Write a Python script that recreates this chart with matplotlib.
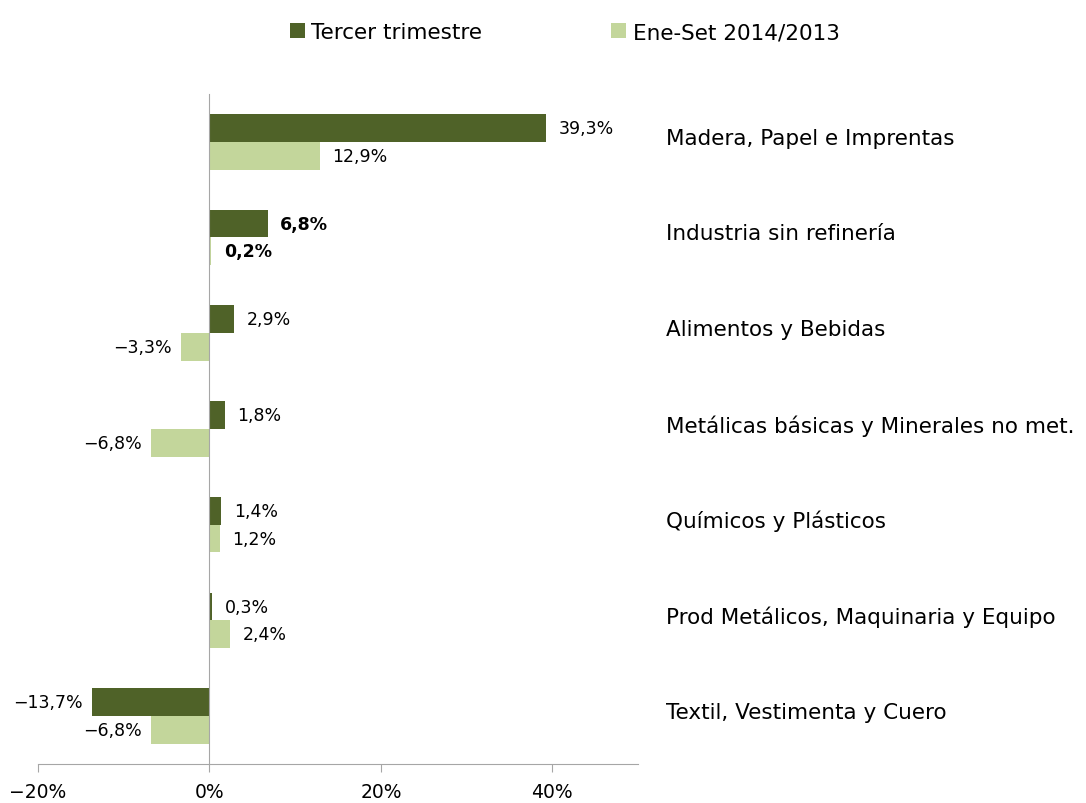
import numpy as np
import matplotlib.pyplot as plt
from matplotlib.ticker import FuncFormatter

categories = [
    "Madera, Papel e Imprentas",
    "Industria sin refinería",
    "Alimentos y Bebidas",
    "Metálicas básicas y Minerales no met.",
    "Químicos y Plásticos",
    "Prod Metálicos, Maquinaria y Equipo",
    "Textil, Vestimenta y Cuero",
]
tercer_trim = [39.3, 6.8, 2.9, 1.8, 1.4, 0.3, -13.7]
ene_set = [12.9, 0.2, -3.3, -6.8, 1.2, 2.4, -6.8]
x_ticks = [-20, 0, 20, 40]

dark = "#4F6228"
light = "#C3D69B"
grey = "#A6A6A6"

fig = plt.figure(figsize=(10.86, 8.04), dpi=100)
ax = fig.add_axes([0.035, 0.0485, 0.5525, 0.8335])

y = np.arange(len(categories))
h = 0.29
b1 = ax.barh(y - h / 2, tercer_trim, height=h, color=dark, label="Tercer trimestre")
b2 = ax.barh(y + h / 2, ene_set, height=h, color=light, label="Ene-Set 2014/2013")

ax.set_xlim(-20, 50)
ax.set_ylim(len(categories) - 0.5, -0.5)
ax.set_xticks(x_ticks)
ax.xaxis.set_major_formatter(FuncFormatter(lambda v, p: f"{v:.0f}%".replace("-", "\u2212")))
ax.set_yticks([])
ax.tick_params(axis="x", direction="out", length=6, color=grey, labelsize=13.5, pad=7)

for s in ["top", "right"]:
    ax.spines[s].set_visible(False)
ax.spines["left"].set_position(("data", 0))
ax.spines["left"].set_color(grey)
ax.spines["bottom"].set_color(grey)


def fmt(v):
    return f"{v:.1f}%".replace(".", ",").replace("-", "\u2212")


for i, cat in enumerate(categories):
    bold = i == 1
    for val, yy in ((tercer_trim[i], y[i] - h / 2), (ene_set[i], y[i] + h / 2)):
        if val >= 0:
            ax.annotate(fmt(val), (val, yy), xytext=(9, 0), textcoords="offset points",
                        ha="left", va="center", fontsize=12.5,
                        fontweight="bold" if bold else "normal")
        else:
            ax.annotate(fmt(val), (val, yy), xytext=(-7, 0), textcoords="offset points",
                        ha="right", va="center", fontsize=12.5)
    ax.annotate(cat, (1, y[i]), xycoords=("axes fraction", "data"), xytext=(20, 3),
                textcoords="offset points", ha="left", va="center", fontsize=15.5,
                annotation_clip=False)

fig.legend(handles=[b1, b2], loc="upper center", bbox_to_anchor=(0.52, 0.995), ncol=2,
           frameon=False, fontsize=15.5, handlelength=0.7, handleheight=0.7,
           handletextpad=0.3, columnspacing=6)

fig.savefig("out.png", dpi=100)
